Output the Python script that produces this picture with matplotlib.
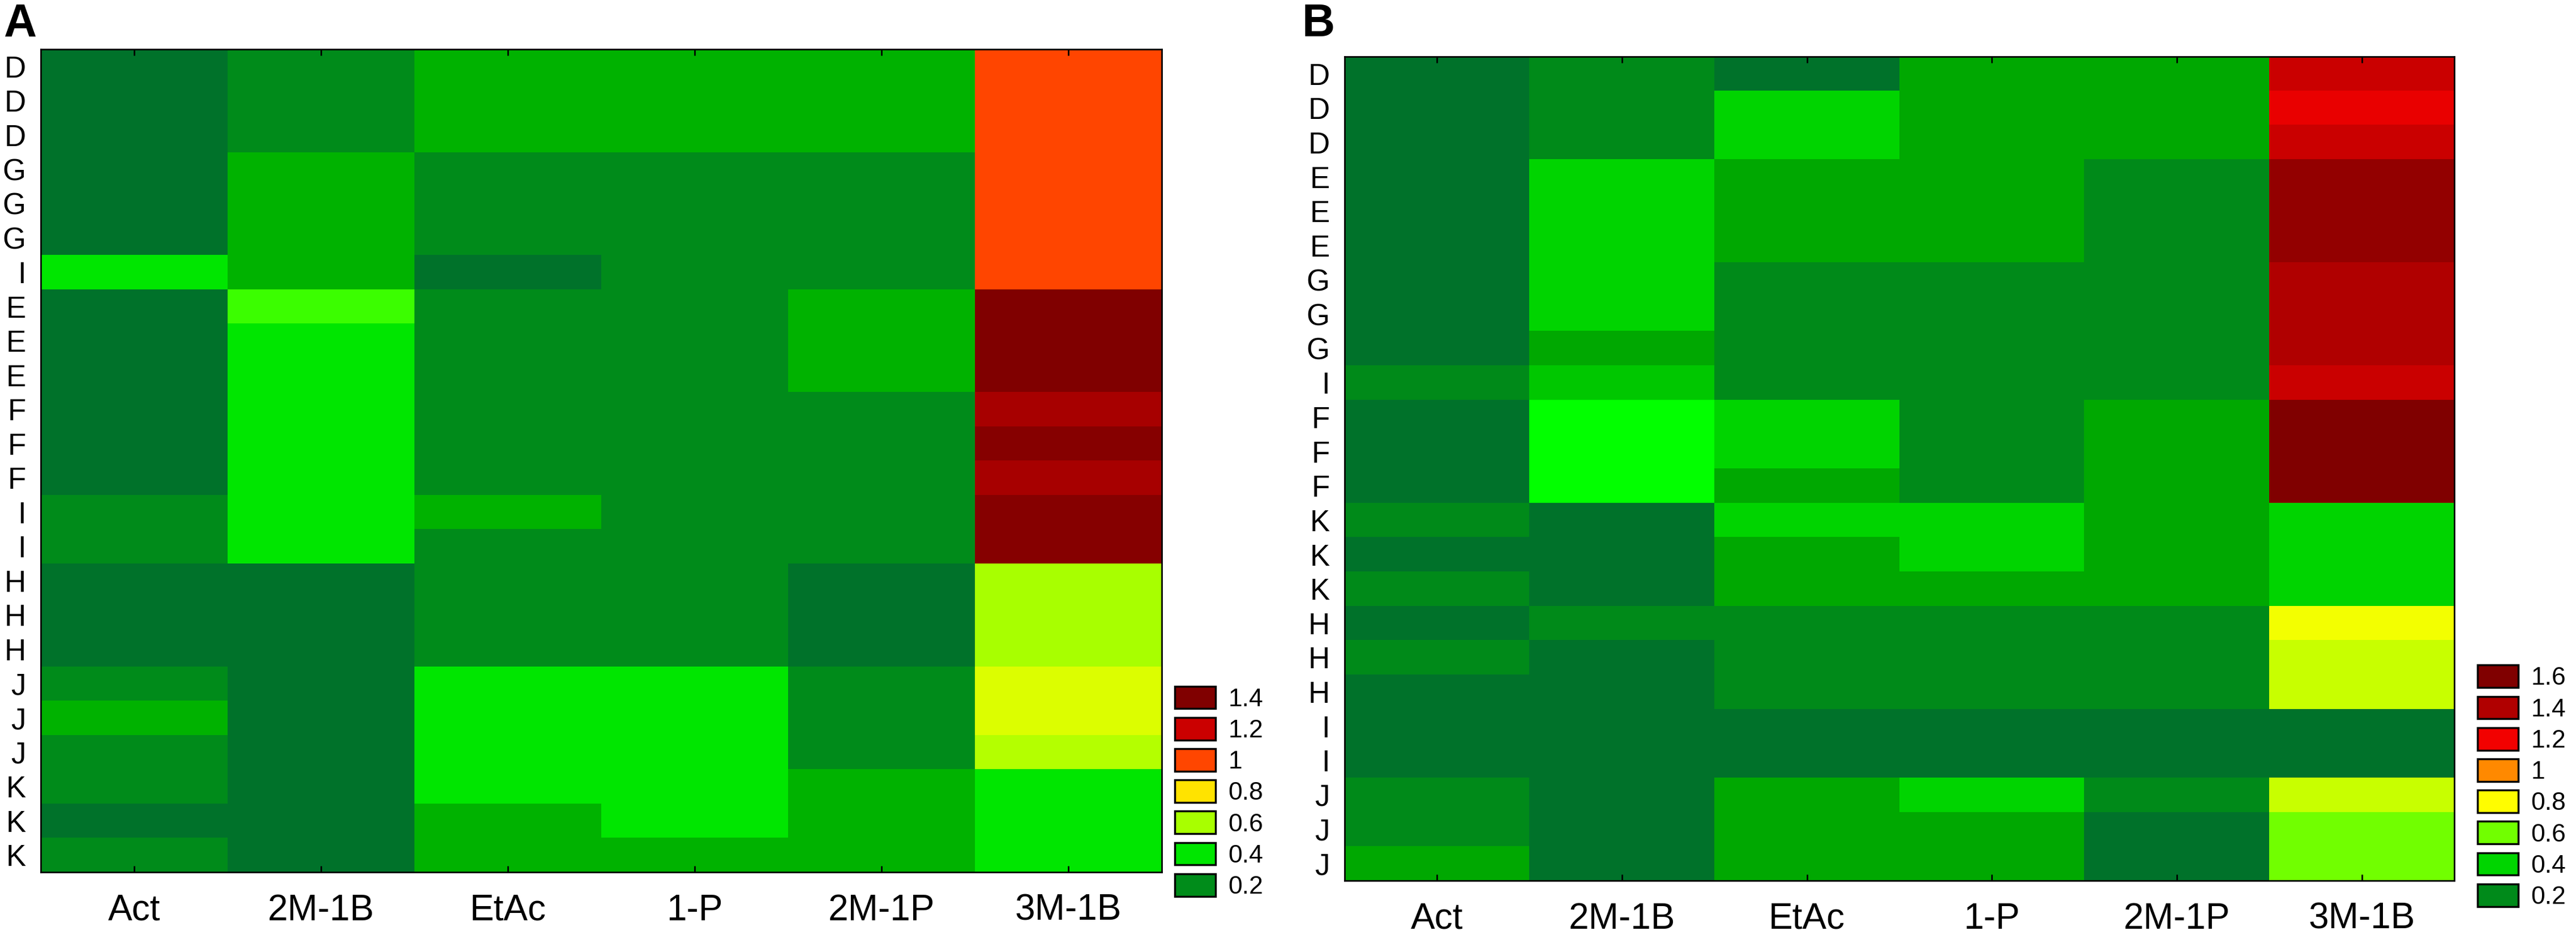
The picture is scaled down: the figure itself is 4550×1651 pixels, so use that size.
import numpy as np
import matplotlib.pyplot as plt
from matplotlib.colors import LinearSegmentedColormap
from matplotlib.patches import Patch

plt.rcParams['font.family'] = ['Liberation Sans', 'DejaVu Sans']

columns = ['Act', '2M-1B', 'EtAc', '1-P', '2M-1P', '3M-1B']

# Panel A
rows_a = ['D', 'D', 'D', 'G', 'G', 'G', 'I', 'E', 'E', 'E', 'F', 'F', 'F',
          'I', 'I', 'H', 'H', 'H', 'J', 'J', 'J', 'K', 'K', 'K']
act_a = [0.05, 0.05, 0.05, 0.05, 0.05, 0.05, 0.4, 0.05, 0.05, 0.05, 0.05, 0.05, 0.05,
         0.2, 0.2, 0.05, 0.05, 0.05, 0.2, 0.3, 0.2, 0.2, 0.05, 0.2]
m2b1_a = [0.2, 0.2, 0.2, 0.3, 0.3, 0.3, 0.3, 0.5, 0.4, 0.4, 0.4, 0.4, 0.4,
          0.4, 0.4, 0.05, 0.05, 0.05, 0.05, 0.05, 0.05, 0.05, 0.05, 0.05]
etac_a = [0.3, 0.3, 0.3, 0.2, 0.2, 0.2, 0.05, 0.2, 0.2, 0.2, 0.2, 0.2, 0.2,
          0.3, 0.2, 0.2, 0.2, 0.2, 0.4, 0.4, 0.4, 0.4, 0.3, 0.3]
p1_a = [0.3, 0.3, 0.3, 0.2, 0.2, 0.2, 0.2, 0.2, 0.2, 0.2, 0.2, 0.2, 0.2,
        0.2, 0.2, 0.2, 0.2, 0.2, 0.4, 0.4, 0.4, 0.4, 0.4, 0.3]
m2p1_a = [0.3, 0.3, 0.3, 0.2, 0.2, 0.2, 0.2, 0.3, 0.3, 0.3, 0.2, 0.2, 0.2,
          0.2, 0.2, 0.05, 0.05, 0.05, 0.2, 0.2, 0.2, 0.3, 0.3, 0.3]
m3b1_a = [1.0, 1.0, 1.0, 1.0, 1.0, 1.0, 1.0, 1.45, 1.45, 1.45, 1.3, 1.38, 1.3,
          1.38, 1.38, 0.6, 0.6, 0.6, 0.7, 0.7, 0.62, 0.4, 0.4, 0.4]
levels_a = [1.4, 1.2, 1, 0.8, 0.6, 0.4, 0.2]

# Panel B
rows_b = ['D', 'D', 'D', 'E', 'E', 'E', 'G', 'G', 'G', 'I', 'F', 'F', 'F',
          'K', 'K', 'K', 'H', 'H', 'H', 'I', 'I', 'J', 'J', 'J']
act_b = [0.05, 0.05, 0.05, 0.05, 0.05, 0.05, 0.05, 0.05, 0.05, 0.2, 0.05, 0.05, 0.05,
         0.2, 0.05, 0.2, 0.05, 0.2, 0.05, 0.05, 0.05, 0.2, 0.2, 0.3]
m2b1_b = [0.2, 0.2, 0.2, 0.4, 0.4, 0.4, 0.4, 0.4, 0.3, 0.37, 0.5, 0.5, 0.5,
          0.05, 0.05, 0.05, 0.2, 0.05, 0.05, 0.05, 0.05, 0.05, 0.05, 0.05]
etac_b = [0.05, 0.4, 0.4, 0.3, 0.3, 0.3, 0.2, 0.2, 0.2, 0.2, 0.4, 0.4, 0.3,
          0.4, 0.3, 0.3, 0.2, 0.2, 0.2, 0.05, 0.05, 0.3, 0.3, 0.3]
p1_b = [0.3, 0.3, 0.3, 0.3, 0.3, 0.3, 0.2, 0.2, 0.2, 0.2, 0.2, 0.2, 0.2,
        0.4, 0.4, 0.3, 0.2, 0.2, 0.2, 0.05, 0.05, 0.4, 0.3, 0.3]
m2p1_b = [0.3, 0.3, 0.3, 0.2, 0.2, 0.2, 0.2, 0.2, 0.2, 0.2, 0.3, 0.3, 0.3,
          0.3, 0.3, 0.3, 0.2, 0.2, 0.2, 0.05, 0.05, 0.2, 0.05, 0.05]
m3b1_b = [1.3, 1.22, 1.3, 1.5, 1.5, 1.5, 1.4, 1.4, 1.4, 1.3, 1.6, 1.6, 1.6,
          0.4, 0.4, 0.4, 0.78, 0.7, 0.7, 0.05, 0.05, 0.7, 0.6, 0.6]
levels_b = [1.6, 1.4, 1.2, 1, 0.8, 0.6, 0.4, 0.2]

cmap_a = LinearSegmentedColormap.from_list('a', [
    (0.0, '#006a30'), (0.2 / 1.4, '#008c1a'), (0.3 / 1.4, '#00b400'),
    (0.4 / 1.4, '#00e600'), (0.5 / 1.4, '#3cff00'), (0.6 / 1.4, '#aaff00'),
    (0.7 / 1.4, '#dcff00'), (0.8 / 1.4, '#ffe400'), (1.0 / 1.4, '#ff4500'),
    (1.2 / 1.4, '#cc0000'), (1.3 / 1.4, '#a80000'), (1.0, '#800000')])
cmap_b = LinearSegmentedColormap.from_list('b', [
    (0.0, '#006a30'), (0.2 / 1.6, '#008a1a'), (0.3 / 1.6, '#00aa00'),
    (0.4 / 1.6, '#00d400'), (0.5 / 1.6, '#00ff00'), (0.6 / 1.6, '#76ff00'),
    (0.7 / 1.6, '#ccff00'), (0.8 / 1.6, '#ffff00'), (1.0 / 1.6, '#ff8c00'),
    (1.2 / 1.6, '#f20000'), (1.3 / 1.6, '#cc0000'), (1.4 / 1.6, '#b00000'),
    (1.5 / 1.6, '#950000'), (1.0, '#800000')])


def draw_panel(ax, data, rows, cmap, vmax):
    grid = np.array(data).T
    ax.imshow(grid, cmap=cmap, vmin=0, vmax=vmax, aspect='auto',
              interpolation='nearest')
    ax.set_xticks(range(len(columns)))
    ax.set_xticklabels(columns, fontsize=46)
    ax.set_yticks(range(len(rows)))
    ax.set_yticklabels(rows, fontsize=38)
    ax.tick_params(axis='y', length=0, pad=19)
    ax.tick_params(axis='x', which='major', direction='in', length=8, width=2,
                   top=True, pad=27)
    ax.set_yticks(range(0, len(rows), 2), minor=True)
    ax.tick_params(axis='y', which='minor', direction='in', length=8, width=2,
                   left=True, right=True)
    for sp in ax.spines.values():
        sp.set_linewidth(2)


fig = plt.figure(figsize=(45.5, 16.51), dpi=100)

ax_a = fig.add_axes([72 / 4550, 111 / 1651, 1980 / 4550, 1453 / 1651])
draw_panel(ax_a, [act_a, m2b1_a, etac_a, p1_a, m2p1_a, m3b1_a], rows_a, cmap_a, 1.4)

ax_b = fig.add_axes([2375 / 4550, 96 / 1651, 1960 / 4550, 1455 / 1651])
draw_panel(ax_b, [act_b, m2b1_b, etac_b, p1_b, m2p1_b, m3b1_b], rows_b, cmap_b, 1.6)

# Legends
for levels, cmap, vmax, anchor in [(levels_a, cmap_a, 1.4, (2075 / 4550, 64 / 1651)),
                                   (levels_b, cmap_b, 1.6, (4376 / 4550, 46 / 1651))]:
    handles = [Patch(facecolor=cmap(v / vmax), edgecolor='black', linewidth=2.5)
               for v in levels]
    fig.legend(handles, [('%g' % v) for v in levels], loc='lower left',
               bbox_to_anchor=anchor, frameon=False, fontsize=32,
               handlelength=1.62, handleheight=1.0, labelspacing=0.25,
               handletextpad=0.5, borderpad=0, borderaxespad=0)

fig.text(7 / 4550, 1 - 5 / 1651, 'A', fontsize=58, fontweight='bold', va='top', ha='left')
fig.text(2300 / 4550, 1 - 5 / 1651, 'B', fontsize=58, fontweight='bold', va='top', ha='left')

fig.savefig('out.png', dpi=100)
